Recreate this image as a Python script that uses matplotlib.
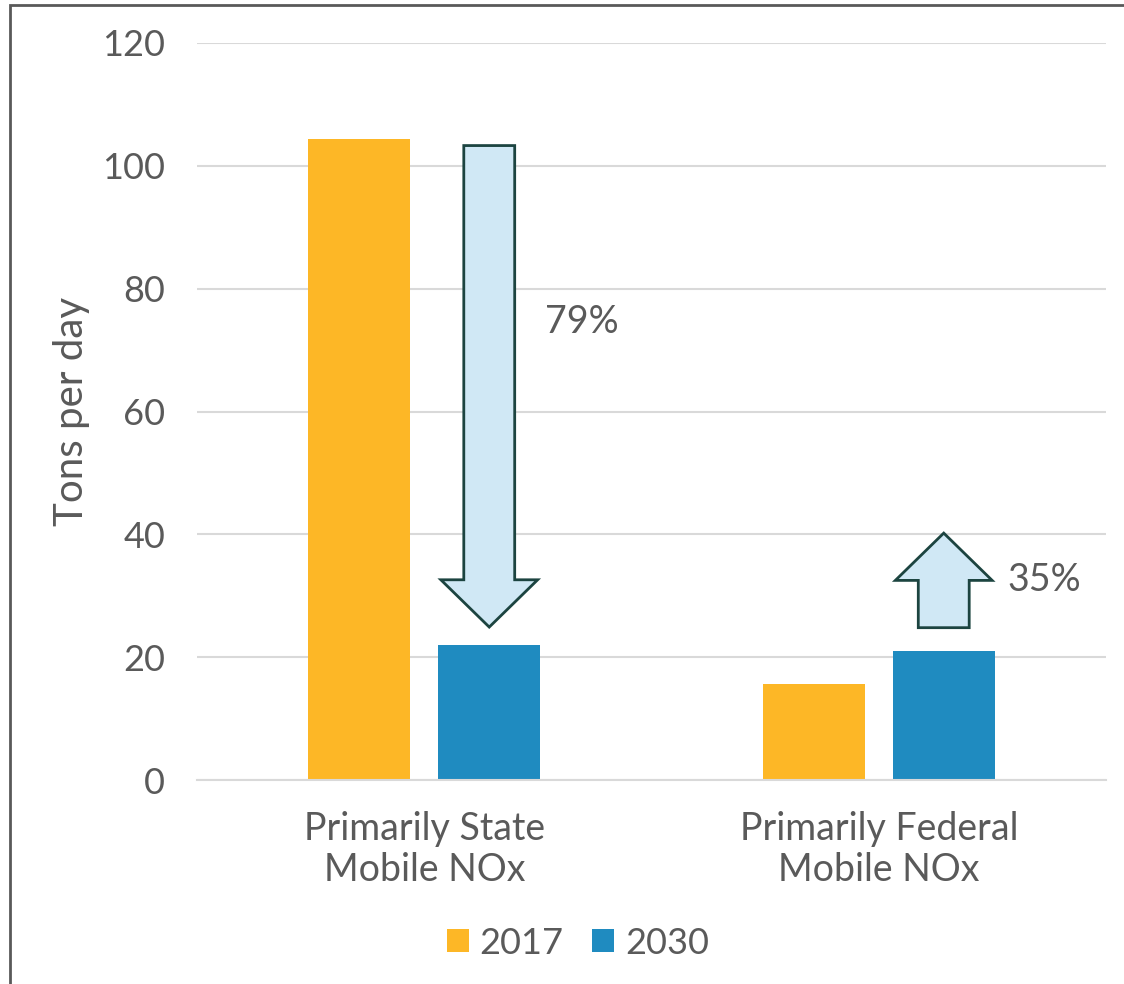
import matplotlib

matplotlib.use("Agg")
import matplotlib.pyplot as plt
from matplotlib.patches import FancyArrow, Rectangle
import numpy as np

plt.rcParams["font.family"] = ["Lato", "DejaVu Sans"]

categories = ["Primarily State\nMobile NOx", "Primarily Federal\nMobile NOx"]
years = ["2017", "2030"]
values_2017 = [104.4, 15.6]
values_2030 = [21.9, 21.0]

# change arrows: (start, end) in tons per day, and the label beside each
arrow_start = [103.3, 24.8]
arrow_end = [24.9, 40.2]
change_labels = ["79%", "35%"]
label_y = [74.6, 32.6]

ORANGE = "#FDB726"
BLUE = "#1F8BC0"
TEXT = "#5A5A5A"
GRID = "#D9D9D9"

fig = plt.figure(figsize=(11.24, 9.84), dpi=100)
ax = fig.add_axes([197 / 1124, 1 - 780 / 984, (1106 - 197) / 1124, (780 - 43) / 984])

x = np.arange(len(categories))
width = 0.224
offset = 0.143
ax.bar(x - offset, values_2017, width, color=ORANGE, label=years[0], zorder=2)
ax.bar(x + offset, values_2030, width, color=BLUE, label=years[1], zorder=2)

for i in range(len(categories)):
    cx = x[i] + offset
    ax.add_patch(
        FancyArrow(
            cx,
            arrow_start[i],
            0,
            arrow_end[i] - arrow_start[i],
            width=0.112,
            head_width=0.213,
            head_length=7.7,
            length_includes_head=True,
            facecolor="#D0E8F5",
            edgecolor="#1C4440",
            linewidth=2,
            zorder=3,
        )
    )

ax.text(0.346, label_y[0], change_labels[0], fontsize=27, color=TEXT, ha="center", va="center")
ax.text(1.364, label_y[1], change_labels[1], fontsize=27, color=TEXT, ha="center", va="center")

ax.set_xlim(-0.5, 1.5)
ax.set_ylim(0, 120)
ax.set_yticks(np.arange(0, 121, 20))
ax.set_xticks(x)
ax.set_xticklabels(categories, linespacing=1.2)
ax.tick_params(axis="y", length=0, pad=23, labelsize=26, labelcolor=TEXT)
ax.tick_params(axis="x", length=0, pad=22, labelsize=27, labelcolor=TEXT)
ax.grid(axis="y", color=GRID, linewidth=1.5, zorder=0)
for side in ["top", "right", "left"]:
    ax.spines[side].set_visible(False)
ax.spines["bottom"].set_color(GRID)
ax.spines["bottom"].set_linewidth(1.5)
ax.set_ylabel("Tons per day", fontsize=29, color=TEXT, labelpad=9)

fig.legend(
    loc="center",
    bbox_to_anchor=(578 / 1124, 1 - 943 / 984),
    ncol=2,
    frameon=False,
    fontsize=26,
    labelcolor=TEXT,
    handlelength=0.6,
    handleheight=0.6,
    handletextpad=0.3,
    columnspacing=0.8,
)

# frame around the slide region, cut off at right and bottom
fig.patches.append(
    Rectangle(
        (10 / 1124, -0.1),
        1.2,
        1 - 5 / 984 + 0.1,
        transform=fig.transFigure,
        fill=False,
        edgecolor="#595959",
        linewidth=2,
    )
)

fig.savefig("out.png", dpi=100)
